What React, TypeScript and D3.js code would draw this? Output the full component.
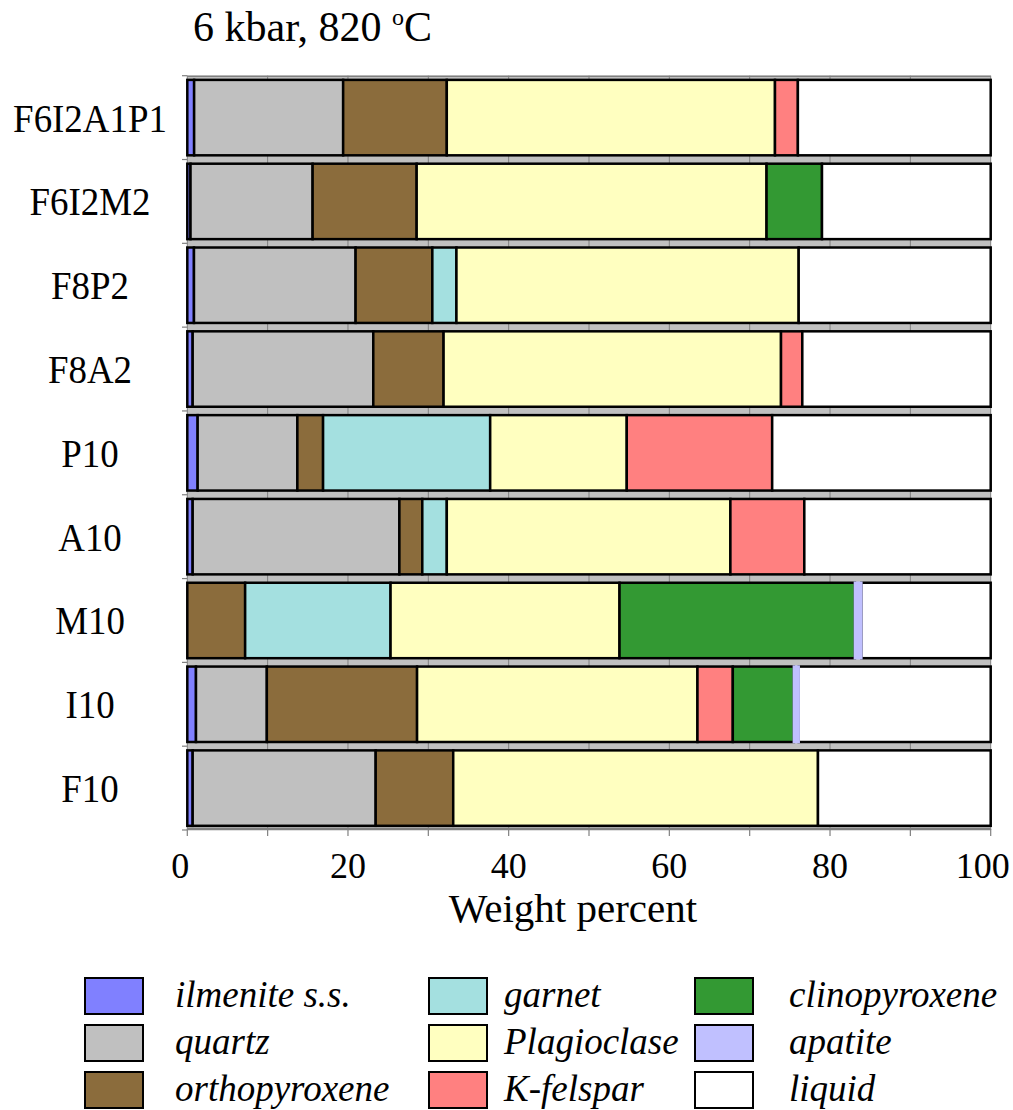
import React from "react";
import * as d3 from "d3";

const categories = ["F6I2A1P1", "F6I2M2", "F8P2", "F8A2", "P10", "A10", "M10", "I10", "F10"];
const minerals = ["ilmenite s.s.", "quartz", "orthopyroxene", "garnet", "Plagioclase", "K-felspar", "clinopyroxene", "apatite", "liquid"];
const ilmenite = [0.85, 0.4, 0.83, 0.67, 1.29, 0.67, 0, 1.08, 0.67];
const quartz = [18.55, 15.2, 20.12, 22.48, 12.41, 25.73, 0, 8.82, 22.78];
const orthopyroxene = [12.9, 12.95, 9.55, 8.75, 3.2, 2.85, 7.2, 18.7, 9.65];
const garnet = [0, 0, 3.0, 0, 20.8, 3.05, 18.1, 0, 0];
const plagioclase = [40.85, 43.55, 42.6, 42.0, 17.0, 35.3, 28.5, 34.9, 45.4];
const kfelspar = [2.85, 0, 0, 2.65, 18.1, 9.2, 0, 4.4, 0];
const clinopyroxene = [0, 6.9, 0, 0, 0, 0, 29.3, 7.6, 0];
const apatite = [0, 0, 0, 0, 0, 0, 0.8, 0.6, 0];
const liquid = [24.0, 21.0, 23.9, 23.45, 27.2, 23.2, 16.1, 23.9, 21.5];
const colors = ["#8080ff", "#c0c0c0", "#8b6c3c", "#a4e0e0", "#ffffc0", "#ff8080", "#339933", "#c0c0ff", "#ffffff"];
const xTicks = [0, 10, 20, 30, 40, 50, 60, 70, 80, 90, 100];
const xLabels = [0, 20, 40, 60, 80, 100];

const series = [ilmenite, quartz, orthopyroxene, garnet, plagioclase, kfelspar, clinopyroxene, apatite, liquid];

export default function App() {
  const W = 1013, H = 1110;
  const x = d3.scaleLinear().domain([0, 100]).range([187.3, 990.7]);
  const y = d3.scaleBand<string>().domain(categories).range([75.7, 830]).paddingInner(0.1).paddingOuter(0.05);
  const rows = categories.map((c, i) => {
    const o: any = { cat: c };
    minerals.forEach((m, j) => (o[m] = series[j][i]));
    return o;
  });
  const stacked = d3.stack<any>().keys(minerals)(rows);
  const step = y.step();
  const bw = y.bandwidth();
  const y0 = 75.7;
  const bounds = d3.range(categories.length + 1).map((i) => y0 + i * step);

  const legendCols = [
    { sx: 85, tx: 175 },
    { sx: 429, tx: 504 },
    { sx: 695, tx: 789 },
  ];
  const legendRows = [978, 1025, 1072];

  const serif = "'Liberation Serif', 'Times New Roman', serif";

  return (
    <svg width={W} height={H} style={{ position: "absolute", left: 0, top: 0, background: "#fff" }}>
      <text x={193} y={41} fontFamily={serif} fontSize={42} fill="#000">
        6 kbar, 820 <tspan fontSize={24} dy={-16}>o</tspan>
        <tspan dy={16}>C</tspan>
      </text>
      {/* plot background */}
      <rect x={x(0)} y={y0} width={x(100) - x(0)} height={830 - y0} fill="#c0c0c0" />
      {xTicks.map((t) => (
        <line key={"g" + t} x1={x(t)} x2={x(t)} y1={y0} y2={830} stroke="#808080" strokeWidth={1} />
      ))}
      <line x1={x(0)} x2={x(100)} y1={y0 + 0.5} y2={y0 + 0.5} stroke="#808080" strokeWidth={1.5} />
      {/* bars */}
      {stacked.map((s, j) =>
        minerals[j] === "apatite"
          ? null
          : s.map((d, i) =>
              d[1] - d[0] > 0 ? (
                <rect
                  key={j + "-" + i}
                  x={x(d[0])}
                  y={y(categories[i])!}
                  width={x(d[1]) - x(d[0])}
                  height={bw}
                  fill={colors[j]}
                  stroke="#000"
                  strokeWidth={2.5}
                />
              ) : null
            )
      )}
      {stacked[7].map((d, i) =>
        d[1] - d[0] > 0 ? (
          <rect
            key={"ap" + i}
            x={x(d[0])}
            y={y(categories[i])!}
            width={x(d[1]) - x(d[0])}
            height={bw}
            fill={colors[7]}
            stroke={colors[7]}
            strokeWidth={2.5}
          />
        ) : null
      )}
      {/* y ticks */}
      {bounds.map((b, i) => (
        <line key={"yt" + i} x1={182} x2={x(0)} y1={b} y2={b} stroke="#808080" strokeWidth={1.2} />
      ))}
      {/* x axis */}
      <line x1={x(0)} x2={x(100)} y1={829} y2={829} stroke="#808080" strokeWidth={2.5} />
      {xTicks.map((t) => (
        <line key={"xt" + t} x1={x(t)} x2={x(t)} y1={829} y2={836} stroke="#808080" strokeWidth={1.2} />
      ))}
      {xLabels.map((t) => {
        const off = t === 0 ? -7 : t === 100 ? -8 : 0;
        return (
          <text key={"xl" + t} x={x(t) + off} y={878} textAnchor="middle" fontFamily={serif} fontSize={36} fill="#000">
            {t}
          </text>
        );
      })}
      <text x={573} y={922} textAnchor="middle" fontFamily={serif} fontSize={41} fill="#000">
        Weight percent
      </text>
      {/* category labels */}
      {categories.map((c) => (
        <text
          key={"cl" + c}
          transform={`translate(90,${y(c)! + bw / 2 + 14}) scale(0.9,1)`}
          textAnchor="middle"
          fontFamily={serif}
          fontSize={41}
          fill="#000"
        >
          {c}
        </text>
      ))}
      {/* legend */}
      {minerals.map((m, j) => {
        const col = legendCols[Math.floor(j / 3)];
        const ry = legendRows[j % 3];
        return (
          <g key={"lg" + m}>
            <rect x={col.sx} y={ry} width={58} height={36} fill={colors[j]} stroke="#000" strokeWidth={2} />
            <text x={col.tx} y={ry + 29} fontFamily={serif} fontStyle="italic" fontSize={37} fill="#000">
              {m}
            </text>
          </g>
        );
      })}
    </svg>
  );
}
